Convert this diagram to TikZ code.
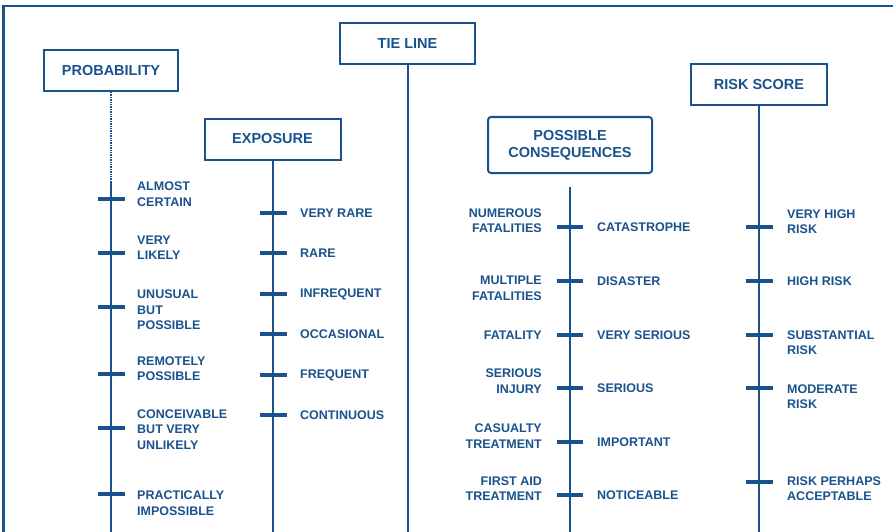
\documentclass[tikz,border=0pt]{standalone}
\usepackage{fontspec}
\setmainfont{Liberation Sans}
\definecolor{chartblue}{RGB}{25,82,140}
\tikzstyle{scalebox}=[draw=chartblue, line width=2pt, text=chartblue, font=\bfseries\fontsize{14.5}{17}\selectfont, minimum height=41pt, align=center]
\tikzstyle{scaleline}=[draw=chartblue, line width=2pt]
\tikzstyle{scaletick}=[draw=chartblue, line width=4.8pt]
\tikzstyle{scaleitem}=[text=chartblue, font=\bfseries\fontsize{12.5}{15.5}\selectfont, inner sep=0pt]

\begin{document}
\begin{tikzpicture}[x=1pt, y=-1pt]
    \useasboundingbox (0,0) rectangle (893,532);
    \draw[chartblue, line width=2.8pt] (3.5,6) rectangle (905,545);
    % headings
    \node[scalebox, minimum width=134pt] (prob) at (111,70.5) {PROBABILITY};
    \node[scalebox, minimum width=136pt] (expo) at (272.5,139) {EXPOSURE};
    \node[scalebox, minimum width=135pt] (tie) at (407.5,44) {TIE LINE};
    \node[scalebox, minimum width=164pt, minimum height=56pt, rounded corners=3pt] (cons) at (570,145) {POSSIBLE\\CONSEQUENCES};
    \node[scalebox, minimum width=136pt] (risk) at (759,84.5) {RISK SCORE};
    % scale lines
    \coordinate (probmid) at (111,182);
    \coordinate (probend) at (111,540);
    \coordinate (expoend) at (272.5,540);
    \coordinate (tieend) at (407.5,540);
    \coordinate (constop) at (570,187);
    \coordinate (consend) at (570,540);
    \coordinate (riskend) at (759,540);
    \draw[scaleline, line width=1.4pt, densely dotted] (prob.south) -- (probmid);
    \draw[scaleline] (probmid) -- (probend);
    \draw[scaleline] (expo.south) -- (expoend);
    \draw[scaleline] (tie.south) -- (tieend);
    \draw[scaleline] (constop) -- (consend);
    \draw[scaleline] (risk.south) -- (riskend);
    % probability
    \foreach \y in {199,253,307,374,428,494}
        \draw[scaletick] (97.5,\y) -- +(27,0);
    \foreach \y/\txt in {194/{ALMOST\\CERTAIN}, 247.5/{VERY\\LIKELY}, 310/{UNUSUAL\\BUT\\POSSIBLE}, 368.5/{REMOTELY\\POSSIBLE}, 429.5/{CONCEIVABLE\\BUT VERY\\UNLIKELY}, 503/{PRACTICALLY\\IMPOSSIBLE}}
        \node[scaleitem, anchor=west, align=left] (prob-\y) at (137,\y) {\txt};
    % exposure
    \foreach \y/\txt in {213/VERY RARE, 253/RARE, 294/INFREQUENT, 334/OCCASIONAL, 375/FREQUENT, 415/CONTINUOUS}{
        \draw[scaletick] (260,\y) -- +(27,0);
        \node[scaleitem, anchor=west] (expo-\y) at (300,\y) {\txt};
    }
    % consequences
    \foreach \y/\txt in {227/CATASTROPHE, 281/DISASTER, 335/VERY SERIOUS, 388/SERIOUS, 442/IMPORTANT, 495/NOTICEABLE}{
        \draw[scaletick] (557,\y) -- +(26,0);
        \node[scaleitem, anchor=west] (cons-\y) at (597,\y) {\txt};
    }
    \foreach \y/\txt in {220.5/{NUMEROUS\\FATALITIES}, 288.5/{MULTIPLE\\FATALITIES}, 335/FATALITY, 381/{SERIOUS\\INJURY}, 436/{CASUALTY\\TREATMENT}, 488.5/{FIRST AID\\TREATMENT}}
        \node[scaleitem, anchor=east, align=right] (harm-\y) at (542,\y) {\txt};
    % risk score
    \foreach \y in {227,281,335,388,482}
        \draw[scaletick] (745.5,\y) -- +(27,0);
    \foreach \y/\txt in {221.5/{VERY HIGH\\RISK}, 281/HIGH RISK, 342.5/{SUBSTANTIAL\\RISK}, 396.5/{MODERATE\\RISK}, 488.5/{RISK PERHAPS\\ACCEPTABLE}}
        \node[scaleitem, anchor=west, align=left] (risk-\y) at (787,\y) {\txt};
\end{tikzpicture}
\end{document}
